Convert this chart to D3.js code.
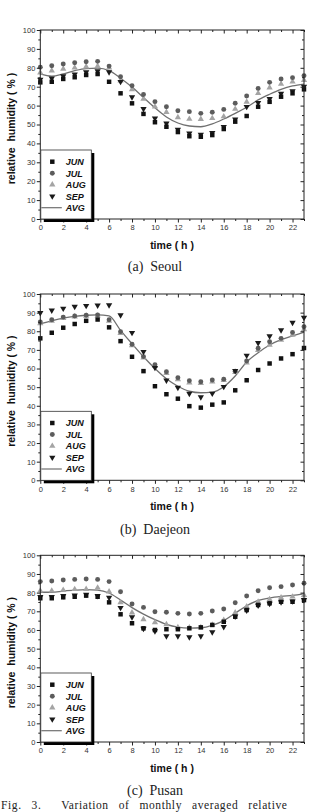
<!DOCTYPE html>
<html><head><meta charset="utf-8">
<script src="https://cdn.jsdelivr.net/npm/d3@7/dist/d3.min.js"></script>
<style>html,body{margin:0;padding:0;background:#fff;overflow:hidden}</style>
</head><body>
<script>
const hours = [0,1,2,3,4,5,6,7,8,9,10,11,12,13,14,15,16,17,18,19,20,21,22,23];
const xTickLabels = [0,2,4,6,8,10,12,14,16,18,20,22];
const yTickLabels = [0,10,20,30,40,50,60,70,80,90,100];
const seriesNames = ["JUN","JUL","AUG","SEP","AVG"];

const seoulJUN = [72.3,72.6,74.1,75.0,76.2,76.7,72.6,66.5,61.2,55.6,51.2,48.8,46.0,43.8,43.5,44.4,47.6,51.5,54.5,59.4,62.0,64.7,66.5,68.6];
const seoulJUL = [80.3,81.1,82.0,82.7,83.2,83.4,80.9,75.3,70.5,65.9,62.1,59.4,57.3,56.8,55.9,56.5,58.0,61.2,65.1,69.1,72.3,74.1,74.8,75.8];
const seoulAUG = [77.4,78.5,79.4,80.0,80.6,80.9,80.0,73.2,68.6,63.5,59.4,56.5,53.8,52.9,52.8,53.3,54.2,58.2,62.0,66.5,69.5,71.4,72.6,73.5];
const seoulSEP = [73.5,74.1,75.3,76.2,77.4,77.9,77.4,72.3,64.2,58.0,52.9,50.3,47.0,45.0,44.4,45.3,48.5,52.4,59.1,61.2,63.3,66.1,67.4,69.7];
const seoulAVG = [76.8,75.6,76.8,78.5,79.6,79.8,78.5,74.5,69.8,64.3,58.8,54.0,50.8,49.2,48.8,50.3,52.9,55.9,59.1,63.0,66.0,68.6,70.4,71.4];

const daejeonJUN = [76.2,79.2,81.9,83.9,85.6,86.3,82.1,74.7,66.3,58.6,50.5,46.2,43.8,39.8,39.0,40.6,41.8,48.3,53.7,59.2,62.7,65.4,67.7,71.0];
const daejeonJUL = [85.0,86.2,87.6,88.2,88.6,88.8,86.2,79.8,73.0,66.4,62.0,58.3,55.1,53.5,52.9,53.8,54.3,58.5,64.0,70.9,74.4,76.2,79.4,82.4];
const daejeonAUG = [84.2,85.5,87.0,87.8,88.2,88.3,85.5,79.0,72.4,65.8,61.2,57.5,54.2,52.4,52.1,52.9,53.8,58.0,63.1,69.9,72.6,75.3,78.0,81.0];
const daejeonSEP = [89.6,90.9,91.9,92.9,93.4,93.6,93.7,88.4,78.9,68.7,60.1,53.3,49.4,46.2,44.3,46.3,49.9,58.5,66.7,73.5,77.1,80.3,84.3,87.0];
const daejeonAVG = [84.0,85.6,87.0,88.0,88.6,88.8,88.2,80.5,73.3,66.3,60.0,54.5,50.5,47.8,47.0,47.3,50.2,56.0,63.5,68.5,72.6,75.5,77.5,79.5];

const pusanJUN = [77.0,77.0,77.5,77.8,78.4,77.8,74.8,68.4,63.6,60.9,60.0,60.4,60.4,60.9,61.4,62.7,64.4,67.1,70.7,73.4,74.3,75.1,75.1,76.0];
const pusanJUL = [85.9,86.2,86.8,87.1,87.3,87.1,85.9,80.5,73.9,72.1,69.8,69.5,68.9,68.6,68.9,70.2,71.2,74.6,78.2,81.0,82.6,83.2,84.1,85.0];
const pusanAUG = [81.0,81.0,81.4,81.8,81.9,82.6,80.5,74.8,69.3,65.7,64.1,63.0,61.4,61.3,61.4,62.7,65.3,69.3,72.5,75.1,76.4,77.3,77.8,78.7];
const pusanSEP = [77.5,77.5,78.0,78.2,78.7,78.0,77.0,71.6,66.6,60.4,59.1,56.4,56.4,55.9,56.4,58.5,61.4,67.0,70.2,72.8,73.8,74.6,75.1,75.8];
const pusanAVG = [80.2,80.2,80.8,81.3,81.6,81.4,79.8,76.0,72.0,68.5,65.5,63.0,61.5,61.0,61.2,62.5,65.0,69.0,73.0,75.8,77.2,78.0,78.5,79.3];

const panelCaptions = ["(a)  Seoul","(b)  Daejeon","(c)  Pusan"];
const figCaption = "Fig. 3.  Variation of monthly averaged relative";

// layout (not data)
const layout = [
  {top:30, bottom:219},
  {top:294, bottom:480.3},
  {top:555.3, bottom:742}
];
const panelData = [
  [seoulJUN, seoulJUL, seoulAUG, seoulSEP, seoulAVG],
  [daejeonJUN, daejeonJUL, daejeonAUG, daejeonSEP, daejeonAVG],
  [pusanJUN, pusanJUL, pusanAUG, pusanSEP, pusanAVG]
];

const W = 313, H = 812;
const svg = d3.select("body").append("svg").attr("width", W).attr("height", H)
  .style("font-family", "'Liberation Sans', Arial, sans-serif");

const styles = {
  JUN: {sym: d3.symbolSquare, size: 20, fill: "#111"},
  JUL: {sym: d3.symbolCircle, size: 19, fill: "#5c5c5c"},
  AUG: {sym: d3.symbolTriangle, size: 17, fill: "#a4a4a4"},
  SEP: {sym: d3.symbolTriangle, size: 17, fill: "#1a1a1a", rot: 180}
};
const avgColor = "#707070";

const x = d3.scaleLinear().domain([0, 23]).range([40.3, 304]);

layout.forEach((L, pi) => {
  const y = d3.scaleLinear().domain([0, 100]).range([L.bottom, L.top]);
  const g = svg.append("g");
  const data = panelData[pi];

  const line = d3.line().x((d, i) => x(hours[i])).y(d => y(d)).curve(d3.curveMonotoneX);
  g.append("path").datum(data[4]).attr("d", line).attr("fill", "none")
    .attr("stroke", avgColor).attr("stroke-width", 1.3);

  [2, 1, 3, 0].forEach(si => {
    const st = styles[seriesNames[si]];
    g.selectAll(null).data(data[si]).enter().append("path")
      .attr("d", d3.symbol().type(st.sym).size(st.size))
      .attr("transform", (d, i) => `translate(${x(hours[i])},${y(d) + (st.rot ? -0.6 : 0)})` + (st.rot ? ` rotate(${st.rot})` : ""))
      .attr("fill", st.fill);
  });

  g.append("rect").attr("x", x(0)).attr("y", L.top).attr("width", x(23) - x(0)).attr("height", L.bottom - L.top)
    .attr("fill", "none").attr("stroke", "#222").attr("stroke-width", 1);

  const bottomAx = d3.axisBottom(x).tickValues(hours).tickSize(3).tickPadding(3)
    .tickFormat(d => xTickLabels.includes(d) ? d : "");
  const ba = g.append("g").attr("transform", `translate(0,${L.bottom})`).call(bottomAx);
  ba.select(".domain").remove();
  ba.selectAll(".tick line").attr("stroke", "#222").attr("y2", d => d % 2 === 0 ? 3.5 : 2);
  ba.selectAll("text").attr("font-size", 7.5).attr("fill", "#333").attr("font-family", "'Liberation Sans', Arial, sans-serif");

  const ta = g.append("g").attr("transform", `translate(0,${L.top})`).call(d3.axisTop(x).tickValues(hours).tickSize(-3).tickFormat(""));
  ta.select(".domain").remove();
  ta.selectAll(".tick line").attr("stroke", "#222").attr("y2", d => d % 2 === 0 ? 3.5 : 2);

  const yTicks = d3.range(0, 101, 5);
  const la = g.append("g").attr("transform", `translate(${x(0)},0)`).call(
    d3.axisLeft(y).tickValues(yTicks).tickSize(3).tickPadding(2).tickFormat(d => yTickLabels.includes(d) ? d : ""));
  la.select(".domain").remove();
  la.selectAll(".tick line").attr("stroke", "#222").attr("x2", d => d % 10 === 0 ? -3.5 : -2);
  la.selectAll("text").attr("font-size", 7.5).attr("fill", "#333").attr("font-family", "'Liberation Sans', Arial, sans-serif");

  const ra = g.append("g").attr("transform", `translate(${x(23)},0)`).call(
    d3.axisRight(y).tickValues(yTicks).tickSize(-3).tickFormat(""));
  ra.select(".domain").remove();
  ra.selectAll(".tick line").attr("stroke", "#222").attr("x2", d => d % 10 === 0 ? -3.5 : -2);

  g.append("text").attr("x", 172).attr("y", L.bottom + 30).attr("text-anchor", "middle")
    .attr("font-size", 10.5).attr("font-weight", "bold").attr("fill", "#111").text("time ( h )");
  const cy = (L.top + L.bottom) / 2 + 4;
  g.append("text").attr("transform", `translate(14.5,${cy}) rotate(-90)`).attr("text-anchor", "middle")
    .attr("font-size", 10.5).attr("font-weight", "bold").attr("fill", "#111")
    .style("white-space", "pre").text("relative  humidity ( % )");

  const lx = 40.8, lw = 50.5, lh = 69, ly = L.bottom - lh;
  g.append("rect").attr("x", lx + 3).attr("y", ly + 3).attr("width", lw).attr("height", lh).attr("fill", "#000");
  g.append("rect").attr("x", lx).attr("y", ly).attr("width", lw).attr("height", lh)
    .attr("fill", "#fff").attr("stroke", "#333").attr("stroke-width", 0.8);
  seriesNames.forEach((nm, k) => {
    const yy = ly + 11.7 + k * 11.5;
    if (nm === "AVG") {
      g.append("line").attr("x1", lx + 0.5).attr("x2", lx + 21).attr("y1", yy).attr("y2", yy)
        .attr("stroke", avgColor).attr("stroke-width", 1.2);
    } else {
      const st = styles[nm];
      g.append("path").attr("d", d3.symbol().type(st.sym).size(st.size))
        .attr("transform", `translate(${lx + 11.5},${yy}) ` + (st.rot ? `rotate(${st.rot})` : ""))
        .attr("fill", st.fill);
    }
    g.append("text").attr("x", lx + 25).attr("y", yy + 3.3).attr("font-size", 9)
      .attr("font-weight", "bold").attr("font-style", "italic").attr("fill", "#111").text(nm);
  });

  const capY = [L.bottom + 52, L.bottom + 53.5, L.bottom + 53][pi];
  svg.append("text").attr("x", 155).attr("y", capY).attr("text-anchor", "middle")
    .attr("font-family", "'Liberation Serif', 'DejaVu Serif', serif").attr("font-size", 14)
    .attr("fill", "#222").style("white-space", "pre").text(panelCaptions[pi]);
});

svg.append("text").attr("x", 1).attr("y", 809.3)
  .attr("font-family", "'Liberation Serif', 'DejaVu Serif', serif").attr("font-size", 11.5)
  .attr("word-spacing", 6.5).attr("letter-spacing", 0.6)
  .attr("fill", "#222").style("white-space", "pre").text(figCaption);
</script>
</body></html>
